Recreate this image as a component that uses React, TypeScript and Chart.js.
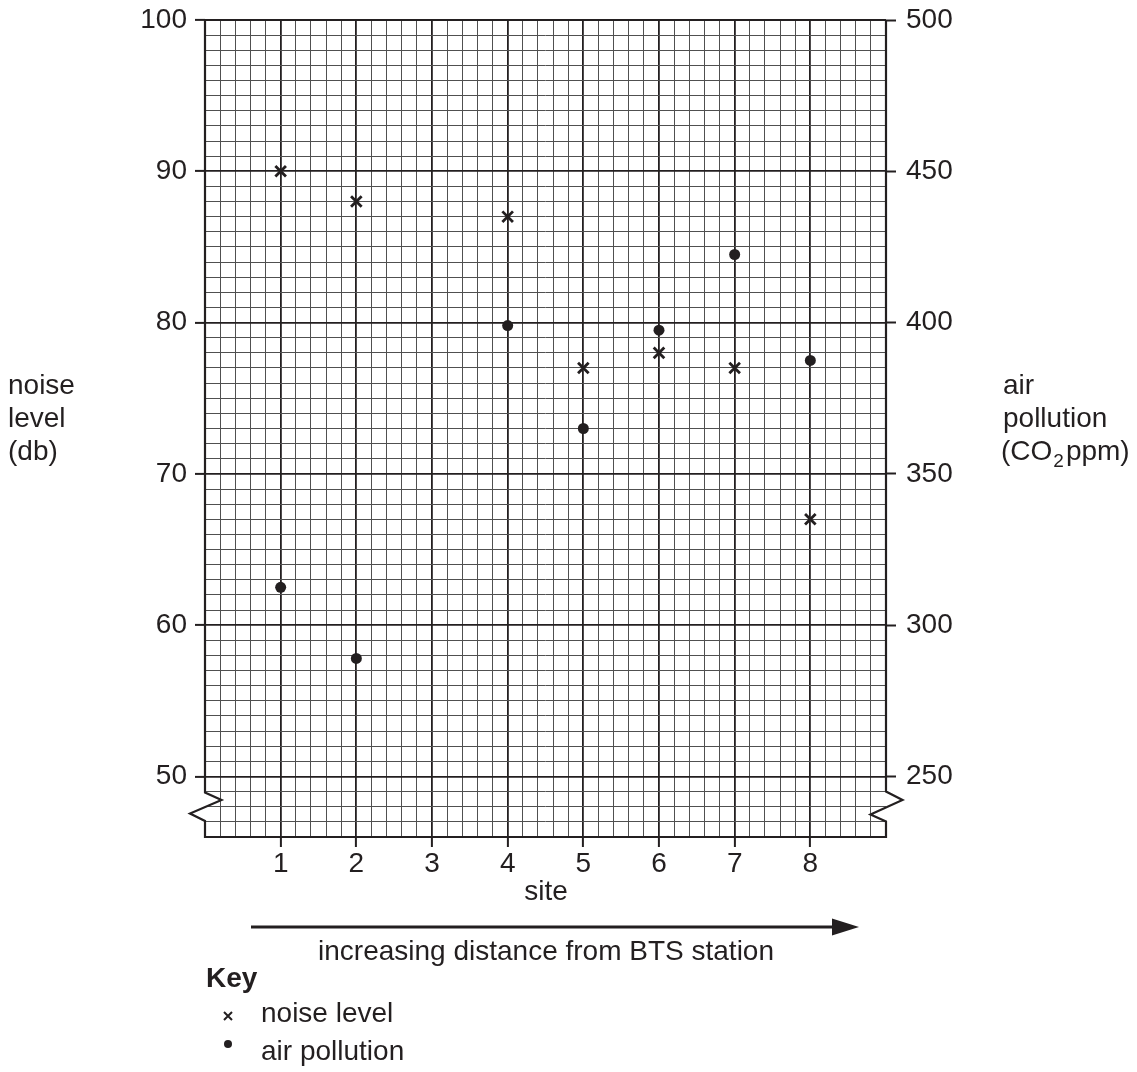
import { useEffect, useRef } from 'react';
import { Chart, registerables } from 'chart.js';
Chart.register(...registerables);

// ---- data ----
const sites = [1, 2, 4, 5, 6, 7, 8];
const noiseLevel = [90, 88, 87, 77, 78, 77, 67];
const airPollution = [312.5, 289, 399, 365, 397.5, 422.5, 387.5];
const siteTickLabels = [1, 2, 3, 4, 5, 6, 7, 8];
const noiseTickLabels = [50, 60, 70, 80, 90, 100];
const co2TickLabels = [250, 300, 350, 400, 450, 500];

const FONT = "'Liberation Sans', Arial, Helvetica, sans-serif";
const INK = '#231f20';
const MINOR = '#505050';
const NONE = 'rgba(0,0,0,0)';

const near = (a: number, b: number) => Math.abs(a - b) < 1e-6;
const inList = (list: number[], v: number) => list.some((t) => near(t, v));

const noPad = (s: any) => {
  s.paddingTop = 0;
  s.paddingBottom = 0;
  s.paddingLeft = 0;
  s.paddingRight = 0;
};

const decorPlugin = {
  id: 'decor',
  beforeDatasetsDraw(chart: any) {
    const { ctx, chartArea } = chart;
    const yS = chart.scales.y;
    const { left, right, top, bottom } = chartArea;
    const y50 = yS.getPixelForValue(50);
    ctx.save();
    ctx.strokeStyle = INK;
    ctx.lineWidth = 2.2;
    ctx.lineJoin = 'miter';
    ctx.beginPath();
    ctx.moveTo(left, top);
    ctx.lineTo(right, top);
    ctx.stroke();
    ctx.beginPath();
    ctx.moveTo(left, top);
    ctx.lineTo(left, y50 + 16);
    ctx.lineTo(left + 16.5, y50 + 23.5);
    ctx.lineTo(left - 15, y50 + 37);
    ctx.lineTo(left, y50 + 44.5);
    ctx.lineTo(left, bottom);
    ctx.lineTo(right, bottom);
    ctx.lineTo(right, y50 + 45);
    ctx.lineTo(right - 15.5, y50 + 38);
    ctx.lineTo(right + 16.5, y50 + 23.5);
    ctx.lineTo(right, y50 + 15);
    ctx.lineTo(right, top);
    ctx.stroke();
    ctx.restore();
  },
  afterDraw(chart: any) {
    const { ctx } = chart;
    ctx.save();
    ctx.fillStyle = INK;
    ctx.strokeStyle = INK;
    ctx.font = `28px ${FONT}`;
    ctx.textBaseline = 'middle';
    ctx.textAlign = 'left';
    // left title
    ctx.fillText('noise', 8, 386);
    ctx.fillText('level', 8, 419);
    ctx.fillText('(db)', 8, 452);
    // right title
    ctx.fillText('air', 1003, 386);
    ctx.fillText('pollution', 1003, 419);
    let x = 1001;
    ctx.fillText('(CO', x, 452);
    x += ctx.measureText('(CO').width;
    ctx.font = `19px ${FONT}`;
    ctx.fillText('2', x + 1, 462);
    x += ctx.measureText('2').width + 3;
    ctx.font = `28px ${FONT}`;
    ctx.fillText('ppm)', x, 452);
    // x title
    ctx.textAlign = 'center';
    ctx.fillText('site', 546, 892);
    // arrow
    ctx.lineWidth = 3;
    ctx.beginPath();
    ctx.moveTo(251, 927);
    ctx.lineTo(836, 927);
    ctx.stroke();
    ctx.beginPath();
    ctx.moveTo(832, 918.5);
    ctx.lineTo(859, 927);
    ctx.lineTo(832, 935.5);
    ctx.closePath();
    ctx.fill();
    ctx.fillText('increasing distance from BTS station', 546, 952);
    // key
    ctx.textAlign = 'left';
    ctx.font = `bold 28px ${FONT}`;
    ctx.fillText('Key', 206, 979);
    ctx.font = `28px ${FONT}`;
    ctx.fillText('noise level', 261, 1014);
    ctx.fillText('air pollution', 261, 1052);
    // key markers
    ctx.lineWidth = 2;
    ctx.beginPath();
    ctx.moveTo(224, 1012);
    ctx.lineTo(232, 1020);
    ctx.moveTo(232, 1012);
    ctx.lineTo(224, 1020);
    ctx.stroke();
    ctx.beginPath();
    ctx.arc(228, 1044, 4, 0, Math.PI * 2);
    ctx.fill();
    ctx.restore();
  },
};

export default function App() {
  const ref = useRef<HTMLCanvasElement>(null);
  useEffect(() => {
    document.body.style.margin = '0';
    const canvas = ref.current!;
    const tickFont = { family: FONT, size: 28 };
    const chart = new Chart(canvas, {
      type: 'scatter',
      data: {
        datasets: [
          {
            label: 'noise level',
            data: sites.map((s, i) => ({ x: s, y: noiseLevel[i] })),
            yAxisID: 'y',
            pointStyle: 'crossRot',
            pointRadius: 7.5,
            borderWidth: 2.8,
            borderColor: INK,
            backgroundColor: INK,
          },
          {
            label: 'air pollution',
            data: sites.map((s, i) => ({ x: s, y: airPollution[i] })),
            yAxisID: 'y1',
            pointStyle: 'circle',
            pointRadius: 5.5,
            borderWidth: 0,
            borderColor: INK,
            backgroundColor: INK,
          },
        ],
      },
      options: {
        responsive: false,
        animation: false,
        devicePixelRatio: 1,
        layout: { padding: { top: 20, left: 0, right: 0, bottom: 0 } },
        plugins: { legend: { display: false }, tooltip: { enabled: false } },
        scales: {
          x: {
            type: 'linear',
            position: 'bottom',
            min: 0,
            max: 9,
            afterFit: (s: any) => {
              s.height = 235;
              noPad(s);
            },
            border: { display: false },
            ticks: {
              stepSize: 0.2,
              autoSkip: false,
              maxRotation: 0,
              minRotation: 0,
              padding: 0,
              color: INK,
              font: tickFont,
              callback: (v: any) => (inList(siteTickLabels, Number(v)) ? String(Math.round(Number(v))) : ''),
            },
            grid: {
              color: (c: any) => {
                const v = c.tick?.value ?? 0;
                if (near(v, 0) || near(v, 9)) return NONE;
                return near(v, Math.round(v)) ? INK : MINOR;
              },
              lineWidth: (c: any) => {
                const v = c.tick?.value ?? 0;
                return near(v, Math.round(v)) ? 1.8 : 1;
              },
              tickLength: 10,
              tickWidth: 2,
              tickColor: (c: any) => (inList(siteTickLabels, c.tick?.value ?? -1) ? INK : NONE),
            },
          },
          y: {
            type: 'linear',
            position: 'left',
            min: 46,
            max: 100,
            afterFit: (s: any) => {
              s.width = 205;
              noPad(s);
            },
            border: { display: false },
            ticks: {
              stepSize: 1,
              autoSkip: false,
              padding: 8,
              color: INK,
              font: tickFont,
              callback: (v: any) => (inList(noiseTickLabels, Number(v)) ? String(v) : ''),
            },
            grid: {
              color: (c: any) => {
                const v = c.tick?.value ?? 0;
                if (near(v, 46)) return NONE;
                return near(v % 10, 0) ? INK : MINOR;
              },
              lineWidth: (c: any) => {
                const v = c.tick?.value ?? 0;
                return near(v % 10, 0) ? 1.8 : 1;
              },
              tickLength: 10,
              tickWidth: 2,
              tickColor: (c: any) => (inList(noiseTickLabels, c.tick?.value ?? -1) ? INK : NONE),
            },
          },
          y1: {
            type: 'linear',
            position: 'right',
            min: 230,
            max: 500,
            afterFit: (s: any) => {
              s.width = 251;
              noPad(s);
            },
            afterBuildTicks: (s: any) => {
              s.ticks = co2TickLabels.map((v) => ({ value: v }));
            },
            border: { display: false },
            ticks: {
              autoSkip: false,
              padding: 10,
              color: INK,
              font: tickFont,
              callback: (v: any) => String(v),
            },
            grid: {
              drawOnChartArea: false,
              drawTicks: true,
              tickLength: 10,
              tickWidth: 2,
              color: INK,
              tickColor: INK,
            },
          },
        },
      },
      plugins: [decorPlugin],
    } as any);
    return () => chart.destroy();
  }, []);
  return <canvas ref={ref} width={1137} height={1072} style={{ display: 'block', width: 1137, height: 1072 }} />;
}
